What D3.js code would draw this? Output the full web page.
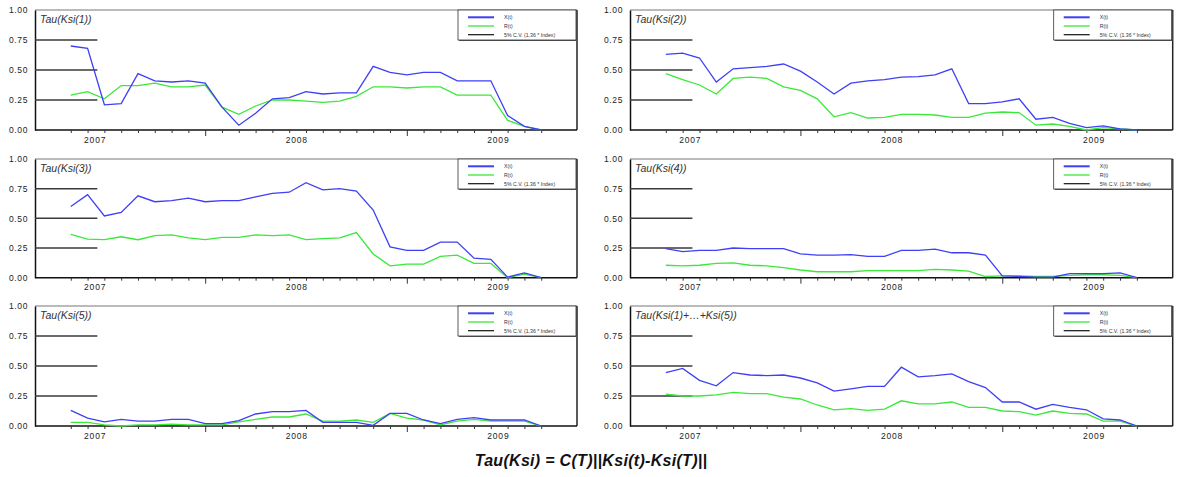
<!DOCTYPE html>
<html><head><meta charset="utf-8">
<script src="https://cdn.jsdelivr.net/npm/d3@7"></script>
<style>
html,body{margin:0;padding:0;background:#fff;}
svg{display:block;font-family:"Liberation Sans",Arial,sans-serif;}
</style></head>
<body><svg id="chart" width="1183" height="477"></svg>
<script>
// ---- data ----
const months = ["2006-12","2007-01","2007-02","2007-03","2007-04","2007-05","2007-06","2007-07","2007-08","2007-09","2007-10","2007-11","2007-12",
  "2008-01","2008-02","2008-03","2008-04","2008-05","2008-06","2008-07","2008-08","2008-09","2008-10","2008-11","2008-12",
  "2009-01","2009-02","2009-03","2009-04"];
const yearLabels = ["2007","2008","2009"];
const yearStartMonths = ["2007-01","2008-01","2009-01"];
const majorTickMonths = ["2007-08","2008-08"];
const yTicks = [0, 0.25, 0.5, 0.75, 1.0];
const cvLevels = [0.25, 0.5, 0.75];
const cvEndMonth = "2007-01";
const legendLabels = ["X(t)", "R(t)", "5% C.V. (1.36 * Index)"];
const panelTitles = ["Tau(Ksi(1))","Tau(Ksi(2))","Tau(Ksi(3))","Tau(Ksi(4))","Tau(Ksi(5))","Tau(Ksi(1)+…+Ksi(5))"];
const mainTitle = "Tau(Ksi) = C(T)||Ksi(t)-Ksi(T)||";

const blue1 = [0.70,0.68,0.21,0.22,0.47,0.41,0.40,0.41,0.39,0.19,0.04,0.14,0.26,0.27,0.32,0.30,0.31,0.31,0.53,0.48,0.46,0.48,0.48,0.41,0.41,0.41,0.12,0.03,0.00];
const green1 = [0.29,0.32,0.26,0.37,0.37,0.39,0.36,0.36,0.375,0.19,0.13,0.20,0.25,0.25,0.24,0.23,0.24,0.28,0.36,0.36,0.35,0.36,0.36,0.29,0.29,0.29,0.08,0.03,0.00];
const blue2 = [0.63,0.64,0.60,0.40,0.51,0.52,0.53,0.55,0.49,0.40,0.30,0.39,0.41,0.42,0.44,0.445,0.46,0.51,0.22,0.22,0.235,0.26,0.09,0.105,0.055,0.02,0.035,0.01,0.00];
const green2 = [0.47,0.42,0.375,0.30,0.43,0.44,0.43,0.36,0.33,0.26,0.11,0.145,0.10,0.105,0.13,0.13,0.125,0.105,0.105,0.14,0.15,0.145,0.04,0.05,0.03,0.00,0.02,0.01,0.00];
const blue3 = [0.60,0.70,0.52,0.55,0.69,0.64,0.65,0.67,0.64,0.65,0.65,0.68,0.71,0.72,0.80,0.74,0.75,0.73,0.57,0.26,0.23,0.23,0.30,0.30,0.165,0.155,0.005,0.04,0.00];
const green3 = [0.365,0.325,0.32,0.345,0.32,0.355,0.36,0.335,0.32,0.34,0.34,0.36,0.355,0.36,0.32,0.33,0.335,0.38,0.20,0.10,0.115,0.115,0.18,0.19,0.12,0.12,0.00,0.03,0.00];
const blue4 = [0.245,0.22,0.23,0.23,0.25,0.245,0.245,0.245,0.20,0.19,0.19,0.195,0.18,0.18,0.23,0.23,0.24,0.21,0.21,0.19,0.015,0.01,0.005,0.005,0.035,0.035,0.035,0.04,0.00];
const green4 = [0.105,0.10,0.105,0.12,0.125,0.105,0.10,0.085,0.065,0.05,0.05,0.05,0.06,0.06,0.06,0.06,0.07,0.065,0.055,0.01,0.015,0.015,0.01,0.01,0.02,0.025,0.025,0.02,0.00];
const blue5 = [0.13,0.065,0.035,0.055,0.04,0.04,0.055,0.055,0.02,0.02,0.045,0.10,0.12,0.12,0.13,0.03,0.03,0.03,0.005,0.105,0.105,0.05,0.02,0.055,0.07,0.05,0.05,0.05,0.00];
const green5 = [0.03,0.03,0.01,0.00,0.01,0.01,0.015,0.01,0.01,0.01,0.035,0.055,0.075,0.075,0.10,0.04,0.04,0.05,0.03,0.105,0.065,0.05,0.01,0.04,0.055,0.04,0.04,0.04,0.00];
const blue6 = [0.445,0.48,0.38,0.335,0.445,0.425,0.42,0.425,0.40,0.36,0.29,0.31,0.33,0.33,0.49,0.41,0.42,0.435,0.37,0.32,0.20,0.20,0.14,0.18,0.155,0.135,0.06,0.05,0.00];
const green6 = [0.265,0.25,0.25,0.26,0.28,0.27,0.27,0.24,0.225,0.175,0.135,0.145,0.13,0.14,0.21,0.185,0.185,0.20,0.155,0.155,0.125,0.12,0.09,0.125,0.105,0.10,0.04,0.04,0.00];

const blueSeries = [blue1, blue2, blue3, blue4, blue5, blue6];
const greenSeries = [green1, green2, green3, green4, green5, green6];

// ---- layout ----
const colX = [[35, 577], [630, 1172.7]];
const rowY = [[10, 130], [159, 277.7], [306, 426]];
const BLUE = "#3f3ff5", GREEN = "#3ae83a", CV = "#3a3a3a";

const svg = d3.select("#chart");

panelTitles.forEach((title, p) => {
  const col = p % 2, row = Math.floor(p / 2);
  const [x0, x1] = colX[col], [y0, y1] = rowY[row];
  const x = d3.scaleLinear().domain([-2.13, months.length - 1 + 2.13]).range([x0, x1]);
  const y = d3.scaleLinear().domain([0, 1]).range([y1, y0]);
  const idx = m => months.indexOf(m);
  const g = svg.append("g");

  // frame (top / right)
  g.append("line").attr("x1", x0).attr("x2", x1).attr("y1", y0).attr("y2", y0).attr("stroke", "#777").attr("stroke-width", 1);
  g.append("line").attr("x1", x1).attr("x2", x1).attr("y1", y0).attr("y2", y1).attr("stroke", "#222").attr("stroke-width", 1.5);

  // y axis
  const yAxis = d3.axisLeft(y).tickValues(yTicks).tickFormat(d3.format(".2f")).tickSize(0).tickPadding(7);
  const ya = g.append("g").attr("transform", `translate(${x0},0)`).call(yAxis);
  ya.select(".domain").attr("stroke", "#111").attr("stroke-width", 1.5);
  ya.selectAll("text").attr("font-size", 8.5).attr("fill", "#222").attr("letter-spacing", 0.6);

  // x axis: ticks at every observation
  const xAxis = d3.axisBottom(x).tickValues(d3.range(months.length)).tickFormat("")
    .tickSizeInner(3).tickSizeOuter(0);
  const xa = g.append("g").attr("transform", `translate(0,${y1})`).call(xAxis);
  xa.select(".domain").attr("d", `M${x0},0H${x1}`).attr("stroke", "#111").attr("stroke-width", 1.5);
  xa.selectAll(".tick line").attr("stroke", "#333")
    .attr("y2", d => majorTickMonths.includes(months[d]) ? 6 : 3);
  // year labels
  g.selectAll(".yr").data(yearLabels).join("text")
    .attr("x", (d, i) => x(idx(yearStartMonths[i]) + 0.45))
    .attr("y", y1 + 12.5)
    .attr("text-anchor", "middle").attr("font-size", 8.5).attr("letter-spacing", 0.8).attr("fill", "#222")
    .text(d => d);

  // C.V. lines
  g.selectAll(".cv").data(cvLevels).join("line")
    .attr("x1", x0).attr("x2", x(idx(cvEndMonth) + 0.58))
    .attr("y1", d => y(d)).attr("y2", d => y(d))
    .attr("stroke", CV).attr("stroke-width", 1.5);

  const line = d3.line().x((d, i) => x(i)).y(d => y(d));
  g.append("path").datum(greenSeries[p]).attr("d", line).attr("fill", "none").attr("stroke", GREEN).attr("stroke-width", 1.3);
  g.append("path").datum(blueSeries[p]).attr("d", line).attr("fill", "none").attr("stroke", BLUE).attr("stroke-width", 1.3);

  // title
  g.append("text").attr("x", x0 + 5).attr("y", y0 + 13).attr("font-size", 10.5).attr("font-style", "italic")
    .attr("fill", "#333").text(title);

  // legend
  const lw = 118, lh = 30, lx = x1 - 1 - lw, ly = y0;
  const lg = g.append("g").attr("transform", `translate(${lx},${ly})`);
  lg.append("rect").attr("x", 1).attr("y", 1).attr("width", lw).attr("height", lh).attr("fill", "#555");
  lg.append("rect").attr("width", lw).attr("height", lh).attr("fill", "#fff").attr("stroke", "#333").attr("stroke-width", 0.8);
  const lcols = [BLUE, GREEN, "#111"];
  const lws = [2, 1.3, 1.2];
  legendLabels.forEach((lab, k) => {
    const yy = 7.3 + k * 8.7;
    lg.append("line").attr("x1", 10).attr("x2", 36).attr("y1", yy).attr("y2", yy).attr("stroke", lcols[k]).attr("stroke-width", lws[k]);
    lg.append("text").attr("x", 46).attr("y", yy + 2).attr("font-size", 5.2).attr("fill", "#333").text(lab);
  });
});

svg.append("text").attr("x", 591).attr("y", 466).attr("text-anchor", "middle")
  .attr("font-size", 16).attr("font-weight", "bold").attr("font-style", "italic").attr("fill", "#111")
  .attr("letter-spacing", 0.3)
  .text(mainTitle);
</script></body></html>
